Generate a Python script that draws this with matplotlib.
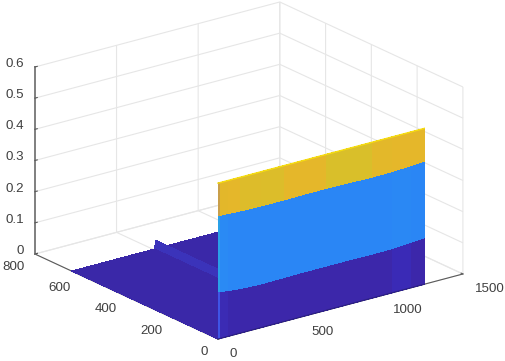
import numpy as np
import matplotlib
matplotlib.use('Agg')
import matplotlib.pyplot as plt
from matplotlib.colors import to_rgba
from mpl_toolkits.mplot3d import proj3d

#-- Data
x_ticks = [0, 500, 1000, 1500]
y_ticks = [0, 200, 400, 600, 800]
z_ticks = [0, 0.1, 0.2, 0.3, 0.4, 0.5, 0.6]
z_labels = ['0', '0.1', '0.2', '0.3', '0.4', '0.5', '0.6']

wall_x = [0, 12, 60, 130, 260, 400, 520, 660, 800, 940, 1060, 1180, 1280]
wall_low = [0.151, 0.150, 0.147, 0.143, 0.140, 0.141, 0.142, 0.142, 0.142, 0.141, 0.142, 0.146, 0.149]
wall_mid = [0.395, 0.395, 0.394, 0.392, 0.390, 0.390, 0.391, 0.391, 0.390, 0.388, 0.389, 0.392, 0.395]
wall_top = [0.5, 0.5, 0.5, 0.5, 0.5, 0.5, 0.5, 0.5, 0.5, 0.5, 0.5, 0.5, 0.5]

floor_x = [0, 508, 515, 530, 1280]
floor_y = [0, 640]
ridge_z = [0, 0, 0.027, 0, 0]

#-- Colours of the three bands, one per wall column
low_colors = ['#3f55e6', '#3b2bb4', '#3a27ac', '#3c27aa', '#3c27aa', '#3c27aa', '#3c27aa',
              '#3c27aa', '#3c27aa', '#3c27aa', '#3a2ab6', '#3c27aa']
mid_colors = ['#2aa0e8', '#2a8af4', '#2a87f5', '#2a86f5', '#2a86f5', '#2a86f5', '#2a86f5',
              '#2a86f5', '#2a86f5', '#2a86f5', '#2a88f4', '#2a86f5']
top_colors = ['#c99f4a', '#e3b72a', '#e5b72a', '#ddbc2a', '#dcbd2a', '#e5b72a', '#e5b72a',
              '#d9bf2a', '#d9bf2a', '#e3b82a', '#e5b72a', '#e5b72a']
floor_colors = ['#3a28a8', '#3b33ba', '#3a28aa', '#3a28a8']

#-- Font and figure
plt.rcParams['font.family'] = ['Liberation Sans', 'DejaVu Sans']
fig = plt.figure(figsize=(5.05, 3.61), dpi=100)
ax = fig.add_axes([0, 0, 1, 1], projection='3d', computed_zorder=False)
ax.set_proj_type('ortho')
ax.view_init(elev=20.55, azim=-127.1)
ax.set_box_aspect((307, 303.5, 199.7))
ax.set_xlim(0, 1500, view_margin=0)
ax.set_ylim(0, 800, view_margin=0)
ax.set_zlim(0, 0.6, view_margin=0)
ax.patch.set_alpha(0)

#-- Floor with the small ridge
fx, fy = np.meshgrid(floor_x, floor_y)
fz = np.array([ridge_z, ridge_z])
fc = np.array([[to_rgba(c) for c in floor_colors]])
ax.plot_surface(fx, fy, fz, facecolors=fc, shade=False, rstride=1, cstride=1,
                linewidth=0, antialiased=False, zorder=3)

#-- Wall at the front
wx = np.array([wall_x] * 4)
wy = np.zeros_like(wx)
wz = np.array([np.zeros(len(wall_x)), wall_low, wall_mid, wall_top])
wc = np.array([[to_rgba(c) for c in low_colors],
               [to_rgba(c) for c in mid_colors],
               [to_rgba(c) for c in top_colors]])
ax.plot_surface(wx, wy, wz, facecolors=wc, shade=False, rstride=1, cstride=1,
                linewidth=0, antialiased=False, zorder=4)
ax.plot(wall_x, np.zeros(len(wall_x)), wall_top, color='#f6dd10', lw=1.0, zorder=5)
ax.plot(wall_x, np.zeros(len(wall_x)), np.zeros(len(wall_x)), color='#2c2080', lw=0.8, zorder=5)

#-- Axes look
ax.set_xticks(x_ticks)
ax.set_yticks(y_ticks)
ax.set_zticks(z_ticks)
for axis in (ax.xaxis, ax.yaxis, ax.zaxis):
    axis.set_pane_color((1, 1, 1, 0))
    axis.pane.set_edgecolor((1, 1, 1, 0))
    axis._axinfo['grid'].update(color='#e6e6e6', linewidth=0.8)
    axis._axinfo['tick'].update(inward_factor=0.0, outward_factor=0.12)
    axis.line.set_color('#5a5a5a')
    axis.line.set_linewidth(0.8)
    axis.label.set_visible(False)
    axis.get_offset_text().set_visible(False)
    #-- the labels are placed by hand below
    for t in axis.get_major_ticks():
        t.label1.set_visible(False)
        t.label2.set_visible(False)
ax.zaxis.line.set_color('#7f7f7f')
ax.zaxis.line.set_linewidth(1.4)
ax.tick_params(axis='both', color='#5a5a5a', width=0.7)
ax.tick_params(axis='z', color='#5a5a5a', width=0.7)
ax.title.set_visible(False)
ax._left_title.set_visible(False)
ax._right_title.set_visible(False)

#-- Tick labels sit a little off the axis lines, as in MATLAB
lab = dict(fontsize=9.6, color='#404040', va='center')
for v in x_ticks:
    ax.text(v + 73, 0, -0.0568, str(v), ha='left', **lab)
for v in y_ticks:
    ax.text(0, v + 44, -0.0566, str(v), ha='right', **lab)
for v, s in zip(z_ticks, z_labels):
    ax.text(0, 848, v - 0.0067, s, ha='right', **lab)


#-- Fit the box to the pixels of the reference
def pix(x, y, z):
    xs, ys, _ = proj3d.proj_transform(x, y, z, ax.get_proj())
    return ax.transData.transform((xs, ys))


fig.canvas.draw()
span = pix(1500, 0, 0)[0] - pix(0, 800, 0)[0]
ax.set_box_aspect((307, 303.5, 199.7), zoom=428 / span)
fig.canvas.draw()
shift = np.array([218, 361 - 339]) - pix(0, 0, 0)
ax.set_position([shift[0] / 505, shift[1] / 361, 1, 1])

fig.savefig('out.png', dpi=100)
